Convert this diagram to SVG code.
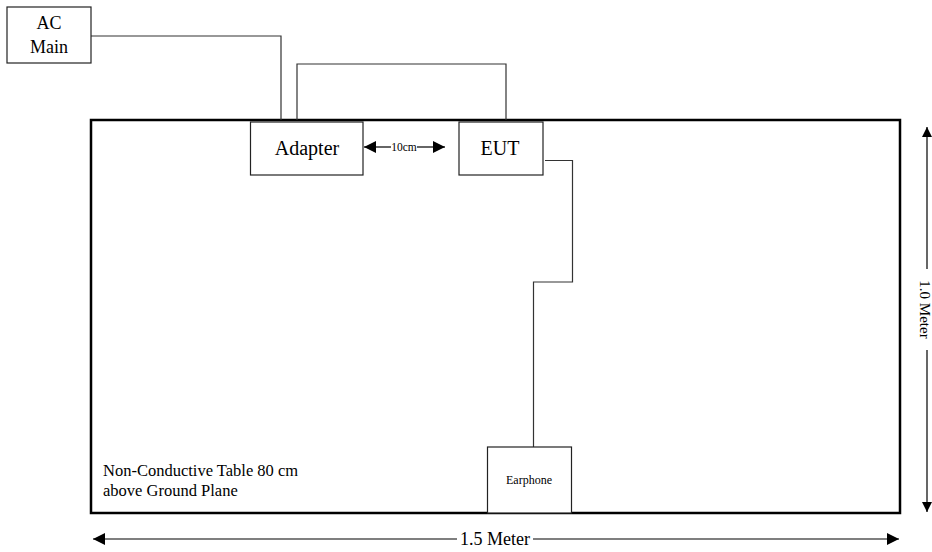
<svg xmlns="http://www.w3.org/2000/svg" width="932" height="552" viewBox="0 0 932 552">
<style>
.box{fill:#fff;stroke:#222;stroke-width:1.2}
.wire{fill:none;stroke:#333;stroke-width:1.2}
.t{font-family:"Liberation Serif","Times New Roman",serif;fill:#000}
.dim{fill:none;stroke:#000;stroke-width:1.2}
</style>
<defs>
<marker id="ah" viewBox="0 0 10 10" refX="10" refY="5" markerWidth="16" markerHeight="10" markerUnits="userSpaceOnUse" orient="auto-start-reverse">
<path d="M0,0 L10,5 L0,10 Z" fill="#000"/>
</marker>
<marker id="ah2" viewBox="0 0 10 10" refX="10" refY="5" markerWidth="21" markerHeight="12" markerUnits="userSpaceOnUse" orient="auto-start-reverse">
<path d="M0,0 L10,5 L0,10 Z" fill="#000"/>
</marker>
</defs>
<rect width="932" height="552" fill="#fff"/>
<g id="table">
<rect x="91" y="120" width="809" height="393" fill="none" stroke="#000" stroke-width="2.5"/>
<text class="t" x="103" y="476" font-size="16.5">Non-Conductive Table 80 cm</text>
<text class="t" x="103" y="496" font-size="16.5">above Ground Plane</text>
</g>
<g id="connectors">
<polyline class="wire" points="91,36 281,36 281,120"/>
<polyline class="wire" points="297,120 297,64 506,64 506,120"/>
<polyline class="wire" points="545,160.5 572.5,160.5 572.5,282 533.5,282 533.5,447"/>
<line class="dim" x1="364" y1="147" x2="391" y2="147" marker-start="url(#ah2)"/>
<line class="dim" x1="417" y1="147" x2="445" y2="147" marker-end="url(#ah2)"/>
<text class="t" x="404" y="151" font-size="11.5" text-anchor="middle">10cm</text>
<line class="dim" x1="93" y1="539" x2="457" y2="539" marker-start="url(#ah2)"/>
<line class="dim" x1="533" y1="539" x2="899" y2="539" marker-end="url(#ah2)"/>
<text class="t" x="495" y="545" font-size="18" text-anchor="middle">1.5 Meter</text>
<line class="dim" x1="927" y1="127" x2="927" y2="269" marker-start="url(#ah)"/>
<line class="dim" x1="927" y1="350" x2="927" y2="512" marker-end="url(#ah)"/>
<text class="t" transform="translate(920,309.5) rotate(90)" font-size="15" text-anchor="middle">1.0 Meter</text>
</g>
<g id="ac-main">
<rect class="box" x="7" y="7" width="84" height="56"/>
<text class="t" x="49" y="29" font-size="18" text-anchor="middle">AC</text>
<text class="t" x="49" y="53" font-size="18" text-anchor="middle">Main</text>
</g>
<g id="adapter">
<rect class="box" x="250.5" y="122" width="112.5" height="53"/>
<text class="t" x="307" y="155" font-size="20" text-anchor="middle">Adapter</text>
</g>
<g id="eut">
<rect class="box" x="459" y="122" width="84" height="53"/>
<text class="t" x="500" y="155" font-size="20" text-anchor="middle">EUT</text>
</g>
<g id="earphone">
<rect class="box" x="487.5" y="447" width="84" height="66"/>
<text class="t" x="529" y="484" font-size="12" text-anchor="middle">Earphone</text>
</g>
</svg>
